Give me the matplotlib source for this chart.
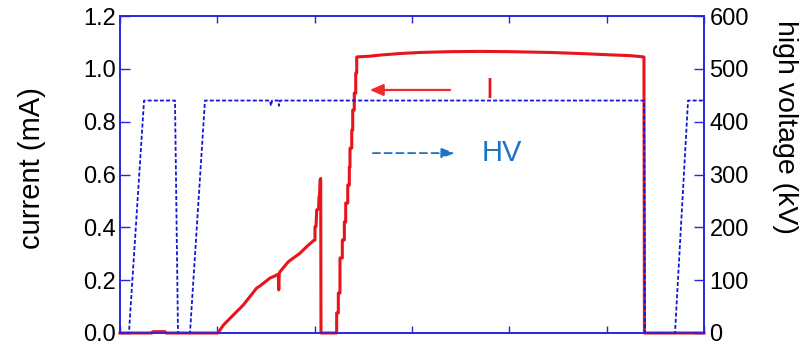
import matplotlib
matplotlib.use("Agg")
import matplotlib.pyplot as plt

plt.rcParams['font.family'] = ['Liberation Sans', 'DejaVu Sans']

# time axis (arbitrary units, 6 tick intervals, no labels)
t_current = [0.0, 0.329, 0.339, 0.462, 0.473, 1.007, 1.062, 1.164, 1.267, 1.404, 1.438, 1.541,
             1.592, 1.626, 1.631, 1.636, 1.644, 1.730, 1.849, 1.918, 1.986,
             2.003, 2.003, 2.014, 2.021, 2.040, 2.045, 2.050, 2.055, 2.062, 2.065,
             2.209, 2.226, 2.226, 2.243, 2.243, 2.260, 2.260, 2.284, 2.284, 2.305, 2.305,
             2.319, 2.319, 2.340, 2.340, 2.356, 2.356, 2.363, 2.363, 2.381, 2.381, 2.391,
             2.391, 2.407, 2.407, 2.422, 2.422, 2.432, 2.432,
             2.568, 2.671, 2.877, 3.082, 3.390, 3.699, 4.007, 4.418, 4.726, 5.034, 5.240,
             5.383, 5.388, 6.0]
current = [0.0, 0.0, 0.005, 0.005, 0.0, 0.0, 0.030, 0.068, 0.106, 0.170, 0.178, 0.208,
           0.216, 0.223, 0.163, 0.225, 0.232, 0.270, 0.302, 0.327, 0.349,
           0.352, 0.402, 0.402, 0.466, 0.470, 0.516, 0.520, 0.579, 0.585, 0.0,
           0.0, 0.0, 0.076, 0.076, 0.151, 0.151, 0.284, 0.284, 0.352, 0.352, 0.420,
           0.420, 0.492, 0.492, 0.560, 0.560, 0.628, 0.628, 0.700, 0.700, 0.768, 0.768,
           0.844, 0.844, 0.908, 0.908, 0.984, 0.984, 1.045,
           1.048, 1.052, 1.058, 1.062, 1.065, 1.066, 1.065, 1.062, 1.058, 1.053, 1.050,
           1.045, 0.0, 0.0]

t_hv = [0.0, 0.092, 0.247, 0.565, 0.596, 0.719, 0.873, 1.541, 1.551, 1.562, 1.623, 1.634,
        1.644, 5.384, 5.394, 5.702, 5.836, 6.0]
hv = [0, 0, 440, 440, 0, 0, 440, 440, 430, 440, 440, 430,
      440, 440, 0, 0, 440, 440]

current_ticks = [0.0, 0.2, 0.4, 0.6, 0.8, 1.0, 1.2]
current_ticklabels = ['0.0', '0.2', '0.4', '0.6', '0.8', '1.0', '1.2']
hv_ticks = [0, 100, 200, 300, 400, 500, 600]
time_ticks = [0, 1, 2, 3, 4, 5, 6]

BLUE = '#2626e0'
RED = '#e8141c'
ARROW_BLUE = '#1c72c4'

fig = plt.figure(figsize=(8, 3.45), dpi=100)
ax = fig.add_axes([0.15, 0.0348, 0.73, 0.9188])
ax2 = ax.twinx()

ax.plot(t_current, current, color=RED, lw=2.2, clip_on=False, zorder=3)
ax2.plot(t_hv, hv, color='#1515d8', lw=1.3, linestyle=(0, (2.2, 1.2)), clip_on=False)

ax.set_xlim(0, 6)
ax.set_ylim(0, 1.2)
ax2.set_ylim(0, 600)

ax.set_xticks(time_ticks)
ax.set_xticklabels([])
ax.set_yticks(current_ticks)
ax.set_yticklabels(current_ticklabels)
ax2.set_yticks(hv_ticks)

ax.tick_params(axis='x', direction='in', length=5, width=1, color=BLUE, top=True, bottom=True)
ax.tick_params(axis='y', direction='in', length=7.5, width=1, color=BLUE, labelsize=17, pad=3)
ax2.tick_params(axis='y', direction='in', length=7.5, width=1, color=BLUE, labelsize=17, pad=4)

for a in (ax, ax2):
    for s in a.spines.values():
        s.set_color(BLUE)
        s.set_linewidth(1.2)

fig.text(32 / 800, 1 - 168 / 345, 'current (mA)', rotation=90, ha='center', va='center', fontsize=21)
fig.text(785 / 800, 1 - 127 / 345, 'high voltage (kV)', rotation=270, ha='center', va='center', fontsize=20.5)

# annotations
ax.annotate('', xy=(2.538, 0.920), xytext=(3.42, 0.920),
            arrowprops=dict(arrowstyle='-|>,head_length=0.8,head_width=0.35', color='#ee2a2a', lw=1.6))
ax.text(3.80, 0.920, 'I', color=RED, fontsize=21, ha='center', va='center')
ax.annotate('', xy=(3.47, 0.681), xytext=(2.569, 0.681),
            arrowprops=dict(arrowstyle='-|>,head_length=0.8,head_width=0.3', color=ARROW_BLUE, lw=1.3,
                            linestyle=(0, (4, 2.5))))
ax.text(3.72, 0.681, 'HV', color=ARROW_BLUE, fontsize=21, ha='left', va='center')

fig.savefig('out.png', dpi=100)
